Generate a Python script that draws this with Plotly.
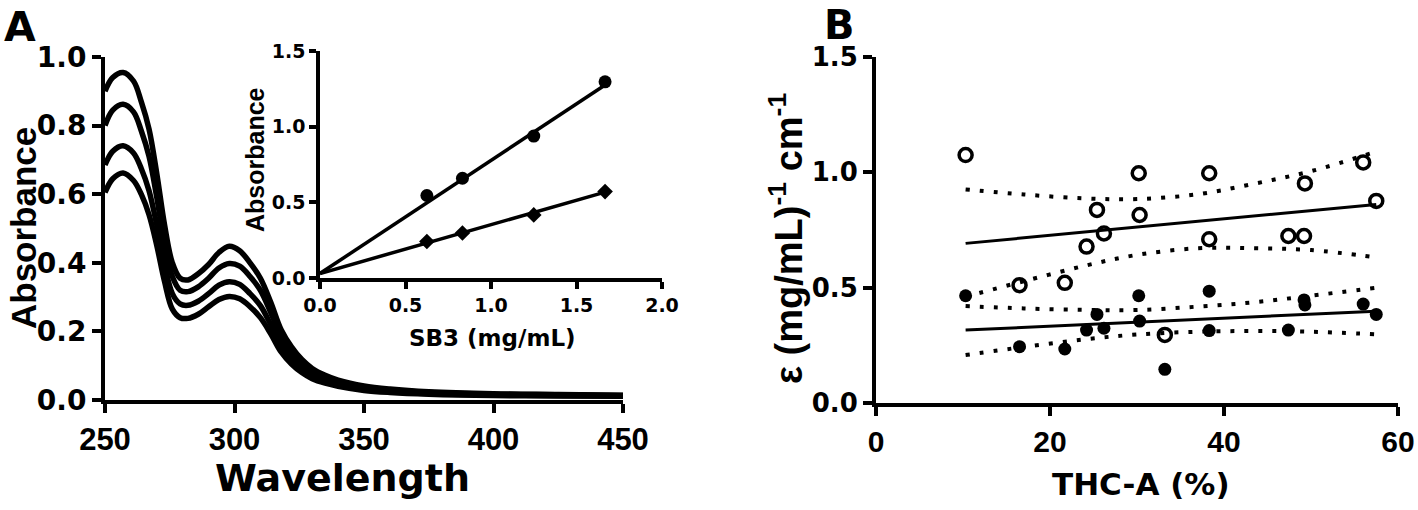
import plotly.graph_objects as go

# === Panel A: UV spectra ===
wavelength = [250, 253, 257, 261, 264, 267, 270, 273, 276, 279, 282, 286, 290, 294, 298,
              302, 306, 310, 314, 318, 322, 326, 330, 335, 340, 350, 360, 375, 400, 425, 450]
spec_1 = [0.90, 0.94, 0.955, 0.93, 0.87, 0.79, 0.66, 0.51, 0.40, 0.355, 0.35, 0.368, 0.395, 0.43, 0.448,
          0.435, 0.40, 0.355, 0.285, 0.205, 0.155, 0.118, 0.092, 0.072, 0.058, 0.041, 0.032, 0.024, 0.018, 0.016, 0.014]
spec_2 = [0.80, 0.845, 0.862, 0.84, 0.785, 0.71, 0.59, 0.455, 0.36, 0.32, 0.316, 0.33, 0.355, 0.385, 0.398,
          0.39, 0.36, 0.32, 0.255, 0.185, 0.138, 0.105, 0.082, 0.064, 0.052, 0.037, 0.029, 0.022, 0.017, 0.015, 0.013]
spec_3 = [0.685, 0.725, 0.741, 0.72, 0.675, 0.61, 0.51, 0.395, 0.31, 0.28, 0.276, 0.288, 0.31, 0.335, 0.345,
          0.337, 0.31, 0.275, 0.22, 0.16, 0.12, 0.091, 0.071, 0.056, 0.045, 0.032, 0.025, 0.019, 0.015, 0.013, 0.012]
spec_4 = [0.605, 0.645, 0.662, 0.64, 0.60, 0.54, 0.45, 0.345, 0.265, 0.24, 0.238, 0.25, 0.272, 0.293, 0.302,
          0.295, 0.272, 0.24, 0.193, 0.14, 0.105, 0.08, 0.062, 0.049, 0.04, 0.028, 0.022, 0.017, 0.013, 0.012, 0.011]

# inset: calibration
sb3_conc = [0.625, 0.833, 1.25, 1.667]
abs_circle = [0.545, 0.659, 0.938, 1.296]
abs_diamond = [0.241, 0.297, 0.417, 0.571]
fit_x = [0.0, 1.667]
fit_circle = [0.03, 1.275]
fit_diamond = [0.03, 0.567]

# === Panel B: epsilon vs THC-A ===
thca = [10.3, 16.5, 21.7, 24.2, 25.4, 26.2, 30.2, 30.3, 33.2, 38.3, 38.3, 47.4, 49.2, 49.3, 56.0, 57.5]
eps_open = [1.075, 0.511, 0.521, 0.678, 0.837, 0.735, 0.996, 0.815, 0.295, 0.996, 0.71, 0.724, 0.724, 0.952, 1.043, 0.876]
eps_closed = [0.465, 0.244, 0.234, 0.316, 0.384, 0.324, 0.465, 0.355, 0.146, 0.485, 0.314, 0.316, 0.447, 0.425, 0.429, 0.384]

line_x = [10.3, 57.5]
open_line = [0.692, 0.861]
closed_line = [0.316, 0.398]
band_x = [10.3, 17, 24, 30, 37, 43.5, 50, 57.5]
open_upper = [0.926, 0.904, 0.887, 0.884, 0.905, 0.951, 1.005, 1.09]
open_lower = [0.461, 0.528, 0.595, 0.642, 0.671, 0.671, 0.663, 0.631]
closed_upper = [0.420, 0.410, 0.404, 0.403, 0.418, 0.437, 0.465, 0.50]
closed_lower = [0.208, 0.243, 0.276, 0.297, 0.309, 0.312, 0.309, 0.298]

W, H = 1418, 510
FONT = "Liberation Sans"
WIDE = "DejaVu Sans"
BLACK = "black"


def fx(px):
    return px / W


def fy(py):
    return 1 - py / H


fig = go.Figure()

for s in [spec_1, spec_2, spec_3, spec_4]:
    fig.add_trace(go.Scatter(x=wavelength, y=s, mode="lines", line=dict(color=BLACK, width=5.5, shape="spline"),
                             xaxis="x", yaxis="y", showlegend=False))

fig.add_trace(go.Scatter(x=fit_x, y=fit_circle, mode="lines", line=dict(color=BLACK, width=3.5),
                         xaxis="x2", yaxis="y2", showlegend=False))
fig.add_trace(go.Scatter(x=fit_x, y=fit_diamond, mode="lines", line=dict(color=BLACK, width=3.5),
                         xaxis="x2", yaxis="y2", showlegend=False))
fig.add_trace(go.Scatter(x=sb3_conc, y=abs_circle, mode="markers", marker=dict(symbol="circle", size=13, color=BLACK),
                         xaxis="x2", yaxis="y2", showlegend=False))
fig.add_trace(go.Scatter(x=sb3_conc, y=abs_diamond, mode="markers", marker=dict(symbol="diamond", size=12, color=BLACK),
                         xaxis="x2", yaxis="y2", showlegend=False))

dots = dict(color=BLACK, width=4, dash="4px,10px", shape="spline")
for band in [open_upper, open_lower, closed_upper, closed_lower]:
    fig.add_trace(go.Scatter(x=band_x, y=band, mode="lines", line=dots, xaxis="x3", yaxis="y3", showlegend=False))
for ln in [open_line, closed_line]:
    fig.add_trace(go.Scatter(x=line_x, y=ln, mode="lines", line=dict(color=BLACK, width=3),
                             xaxis="x3", yaxis="y3", showlegend=False))
fig.add_trace(go.Scatter(x=thca, y=eps_closed, mode="markers", marker=dict(symbol="circle", size=13, color=BLACK),
                         xaxis="x3", yaxis="y3", showlegend=False))
fig.add_trace(go.Scatter(x=thca, y=eps_open, mode="markers",
                         marker=dict(symbol="circle-open", size=13, color=BLACK, line=dict(width=3.5)),
                         xaxis="x3", yaxis="y3", showlegend=False))


def ax(domain, rng, dtick, size, anchor, fmt=".1f", lw=4, tl=9, family=FONT):
    return dict(domain=domain, range=rng, dtick=dtick, tick0=0, tickformat=fmt, anchor=anchor,
                showline=True, linewidth=lw, linecolor=BLACK, ticks="outside", ticklen=tl, tickwidth=lw,
                tickcolor=BLACK, showgrid=False, zeroline=False, automargin=False,
                tickfont=dict(family=family, size=size, color=BLACK, weight="bold"))


fig.update_layout(
    width=W, height=H, autosize=False,
    margin=dict(l=0, r=0, t=0, b=0, pad=0, autoexpand=False),
    plot_bgcolor="white", paper_bgcolor="white",
    xaxis=ax([fx(105), fx(623)], [250, 450], 50, 31, "y", fmt="d"),
    yaxis=ax([fy(400), fy(57)], [0, 1.0], 0.2, 28, "x", family=WIDE),
    xaxis2=ax([fx(320), fx(662)], [0, 2.0], 0.5, 19, "y2", lw=3.5, tl=7, family=WIDE),
    yaxis2=ax([fy(278), fy(51)], [0, 1.5], 0.5, 19, "x2", lw=3.5, tl=7, family=WIDE),
    xaxis3=ax([fx(876), fx(1398)], [0, 60], 20, 30, "y3", fmt="d"),
    yaxis3=ax([fy(403), fy(57)], [0, 1.5], 0.5, 26, "x3", family=WIDE),
)


def label(text, x, y, size, angle=0, family=FONT):
    fig.add_annotation(text=text, x=fx(x), y=fy(y), xref="paper", yref="paper", showarrow=False,
                       textangle=angle, xanchor="center", yanchor="middle",
                       font=dict(family=family, size=size, color=BLACK, weight="bold"))


label("A", 20, 27, 41, family=WIDE)
label("B", 839, 25, 40, family=WIDE)
label("Absorbance", 24, 228, 35, -90)
label("Wavelength", 342, 478, 38, family=WIDE)
label("Absorbance", 255, 160, 25, -90)
label("SB3 (mg/mL)", 492, 338, 23, family=WIDE)
label("THC-A (%)", 1141, 484, 31, family=WIDE)
label("ε (mg/mL)<sup>-1</sup> cm<sup>-1</sup>", 786, 239, 38, -90)

# the page body has a default 8px margin; drop it so the figure fills the window
fig.write_html("out.html", config={"displayModeBar": False},
               post_script="document.body.style.margin = '0';")
